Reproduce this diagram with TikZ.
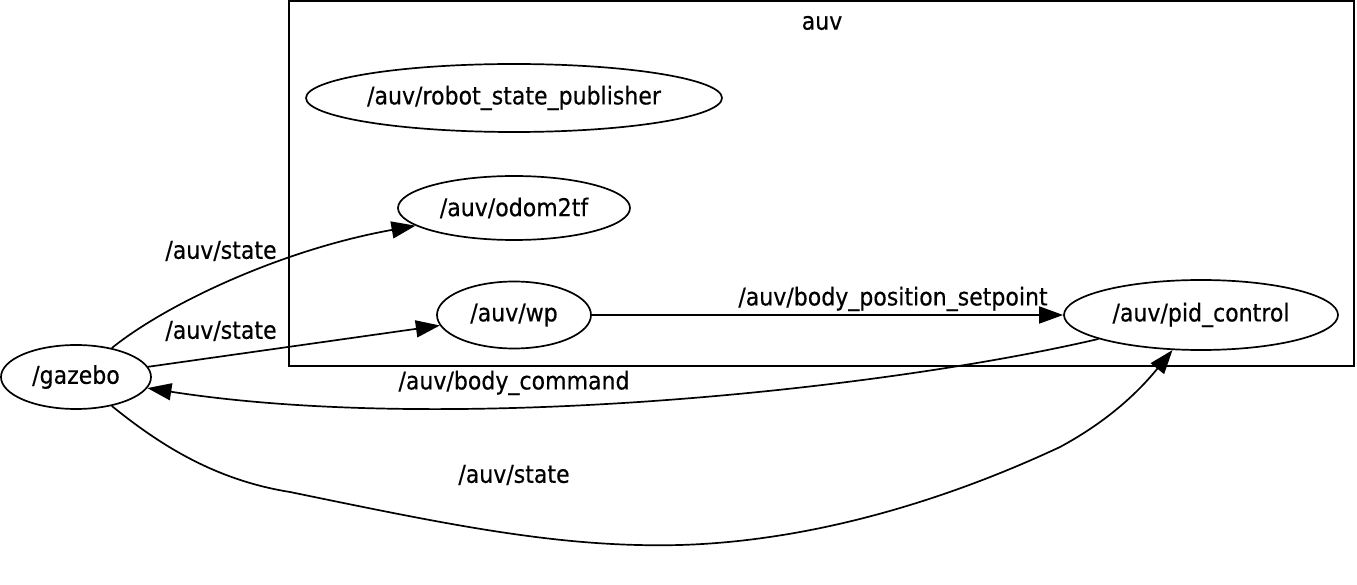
\documentclass[tikz,border=0pt]{standalone}
\usepackage{fontspec}
\setmainfont{DejaVu Sans}[FakeStretch=0.9,FakeBold=0.4]
\usetikzlibrary{shapes.geometric,arrows.meta}
\begin{document}
\begin{tikzpicture}[x=1pt,y=-1pt,
  every node/.style={font=\fontsize{24.5}{28}\selectfont},
  nd/.style={ellipse,draw,line width=1.7pt,inner sep=0pt},
  arr/.style={line width=1.7pt,-{Triangle[length=24pt,width=17pt]}},
  lbl/.style={inner sep=0pt,anchor=center}]
\useasboundingbox (0,0) rectangle (1357,585);
\fill[white] (0,0) rectangle (1357,585);
% cluster
\draw[line width=1.9pt] (289,1) rectangle (1354,366);
\node[lbl] (cl) at (822,23) {auv};
% nodes
\node[nd,minimum width=150pt,minimum height=64pt] (gazebo) at (76,377) {/gazebo};
\node[nd,minimum width=416pt,minimum height=68pt] (rsp) at (514,98) {/auv/robot\_state\_publisher};
\node[nd,minimum width=232pt,minimum height=64pt] (odom) at (514,208) {/auv/odom2tf};
\node[nd,minimum width=154pt,minimum height=67pt] (wp) at (514,315) {/auv/wp};
\node[nd,minimum width=274pt,minimum height=70pt] (pid) at (1201,315) {/auv/pid\_control};
% edges
\draw[arr] (gazebo) .. controls (165,305) and (280,250) .. (odom);
\node[lbl] (l1) at (221,251) {/auv/state};
\draw[arr] (gazebo) -- (wp);
\node[lbl] (l2) at (221,331) {/auv/state};
\draw[arr] (wp) -- (pid);
\node[lbl] (l3) at (893,299) {/auv/body\_position\_setpoint};
\draw[arr] (pid) .. controls (880,390) and (450,435) .. (gazebo);
\node[lbl] (l4) at (514,383) {/auv/body\_command};
\coordinate (b1) at (290,492);
\coordinate (b2) at (680,545);
\coordinate (b3) at (1060,447);
\draw[arr] (gazebo) .. controls (160,445) and (215,480) .. (b1)
  .. controls (450,525) and (560,548) .. (b2)
  .. controls (850,540) and (1000,475) .. (b3)
  .. controls (1110,420) and (1140,390) .. (pid);
\node[lbl] (l5) at (514,475) {/auv/state};
\end{tikzpicture}
\end{document}
